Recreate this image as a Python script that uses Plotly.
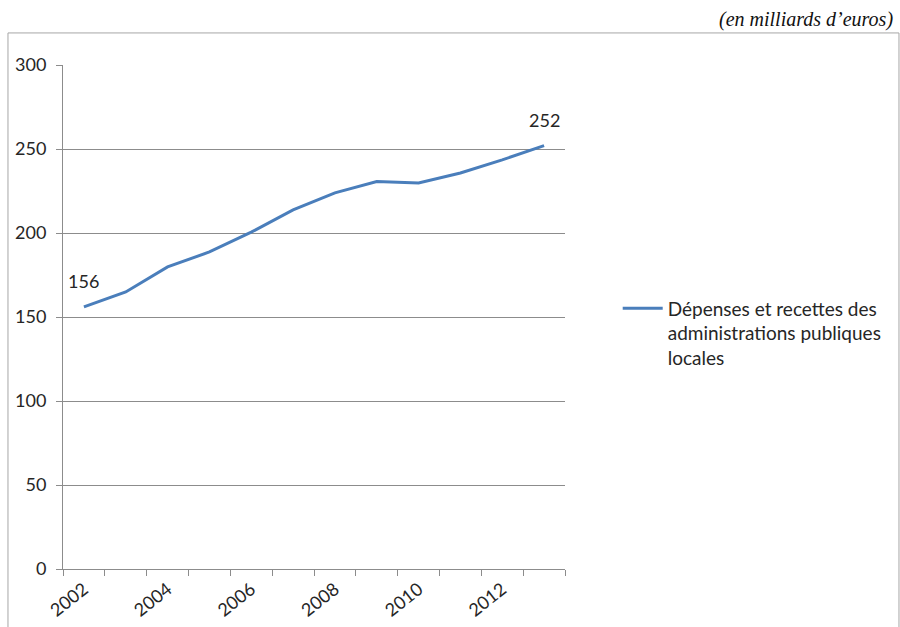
import plotly.graph_objects as go

years = [2002, 2003, 2004, 2005, 2006, 2007, 2008, 2009, 2010, 2011, 2012, 2013]
values = [156, 164.9, 179.8, 188.7, 200.5, 213.8, 223.9, 230.6, 229.8, 235.7, 243.5, 252]
series_name = "Dépenses et recettes des<br>administrations publiques<br>locales"
tick_years = [2002, 2004, 2006, 2008, 2010, 2012]
y_ticks = [0, 50, 100, 150, 200, 250, 300]

grid = "#8c8c8c"
txt = "#262626"
font_family = "Lato, 'Open Sans', sans-serif"

fig = go.Figure()
fig.add_trace(go.Scatter(
    x=years, y=values, mode="lines", name=series_name,
    line=dict(color="#4a7ebb", width=3),
))

fig.update_layout(
    width=900, height=627,
    margin=dict(l=63, r=335, t=65, b=58, autoexpand=False),
    paper_bgcolor="white", plot_bgcolor="white",
    font=dict(family=font_family, size=18, color=txt),
    showlegend=True,
    legend=dict(x=1.105, y=0.555, xanchor="left", yanchor="top",
                valign="top",
                font=dict(size=19, color=txt), bgcolor="rgba(0,0,0,0)",
                itemwidth=40, tracegroupgap=0),
)

fig.update_xaxes(
    range=[2001.5, 2013.5], tickmode="array", tickvals=tick_years,
    ticktext=[str(t) for t in tick_years], tickangle=-38,
    showgrid=False, showline=True, linecolor=grid, linewidth=1,
    ticks="", zeroline=False, ticklabelstandoff=2, automargin=False,
    minor=dict(tick0=2001.5, dtick=1, ticks="outside", ticklen=6,
               tickcolor=grid, showgrid=False),
    tickfont=dict(size=18, color=txt),
)
fig.update_yaxes(
    range=[0, 300], tickmode="array", tickvals=y_ticks,
    showgrid=True, gridcolor=grid, gridwidth=1,
    showline=True, linecolor=grid, linewidth=1,
    ticks="outside", ticklen=6, tickcolor=grid, zeroline=False,
    ticklabelstandoff=6, automargin=False,
    tickfont=dict(size=18, color=txt),
)

# data labels for first and last points
for i in (0, len(years) - 1):
    fig.add_annotation(x=years[i], y=values[i], text=str(round(values[i])),
                       showarrow=False, yshift=26, font=dict(size=18, color=txt))

# unit note
fig.add_annotation(xref="paper", yref="paper", x=1.658, y=1.09,
                   xanchor="right", yanchor="middle", showarrow=False,
                   text="<i>(en milliards d’euros)</i>",
                   font=dict(family="'Liberation Serif', serif", size=20, color="#111111"))

# outer frame
fig.add_shape(type="rect", xref="paper", yref="paper",
              x0=-0.1096, x1=1.6653, y0=-0.2, y1=1.0636,
              line=dict(color="#a6a6a6", width=1), fillcolor="rgba(0,0,0,0)")

fig.write_html("out.html")
